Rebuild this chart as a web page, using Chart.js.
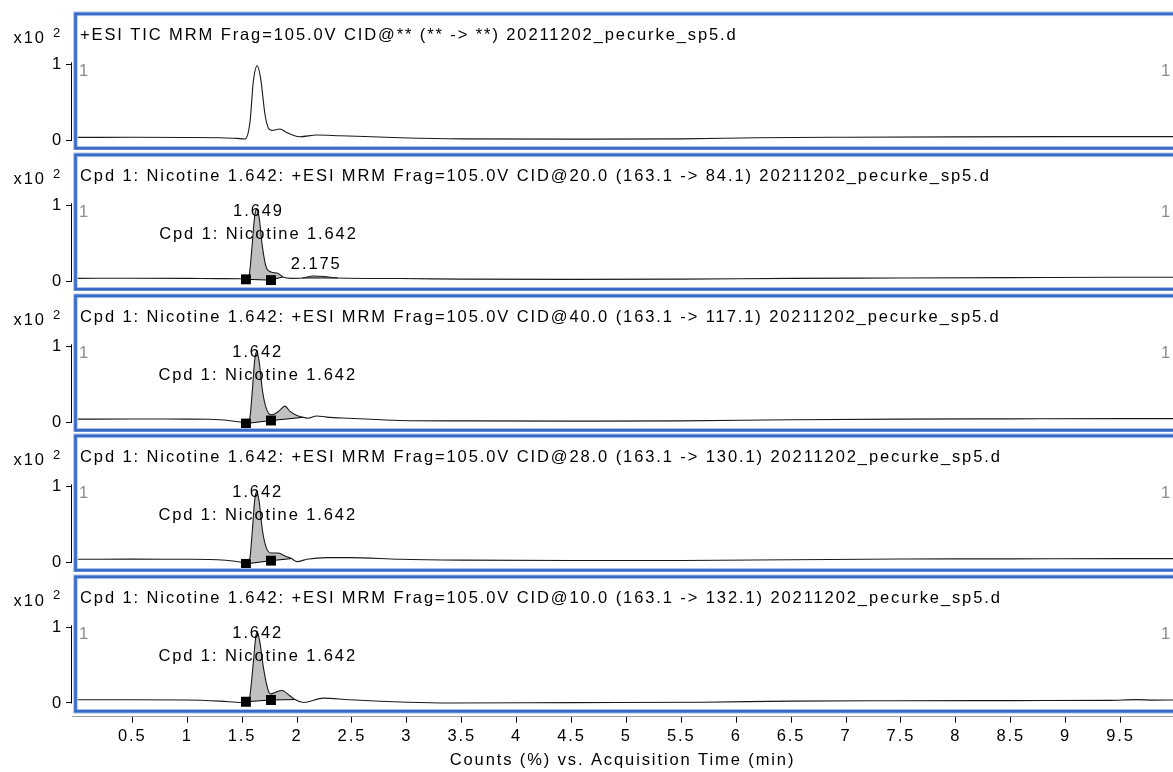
<!DOCTYPE html>
<html>
<head>
<meta charset="utf-8">
<script src="https://cdn.jsdelivr.net/npm/chart.js@4.4.0/dist/chart.umd.min.js"></script>
<style>
  html, body { margin: 0; padding: 0; background: #fff; }
  #wrap { position: relative; width: 1173px; height: 772px; overflow: hidden; }
  #wrap canvas { position: absolute; left: 0; }
</style>
</head>
<body>
<div id="wrap"></div>
<script>
const FONT = '"Liberation Sans", Arial, sans-serif';
const LETTER = '1.9px';

const xTicks = [0.5, 1, 1.5, 2, 2.5, 3, 3.5, 4, 4.5, 5, 5.5, 6, 6.5, 7, 7.5, 8, 8.5, 9, 9.5];
const yTicks = [0, 1];
const xTitle = 'Counts (%) vs. Acquisition Time (min)';

const titles = [
  '+ESI TIC MRM Frag=105.0V CID@** (** -> **) 20211202_pecurke_sp5.d',
  'Cpd 1: Nicotine 1.642: +ESI MRM Frag=105.0V CID@20.0 (163.1 -> 84.1) 20211202_pecurke_sp5.d',
  'Cpd 1: Nicotine 1.642: +ESI MRM Frag=105.0V CID@40.0 (163.1 -> 117.1) 20211202_pecurke_sp5.d',
  'Cpd 1: Nicotine 1.642: +ESI MRM Frag=105.0V CID@28.0 (163.1 -> 130.1) 20211202_pecurke_sp5.d',
  'Cpd 1: Nicotine 1.642: +ESI MRM Frag=105.0V CID@10.0 (163.1 -> 132.1) 20211202_pecurke_sp5.d'
];

// TIC
const t1 = [0, 0.5, 1.0, 1.3, 1.45, 1.526, 1.572, 1.602, 1.638, 1.669, 1.709, 1.739, 1.77, 1.845, 1.906, 1.97, 2.028, 2.179, 2.391, 2.938, 3.5, 4.5, 5.5, 6.2, 7.0, 8.0, 9.0, 9.978];
const y1 = [0.035, 0.036, 0.034, 0.03, 0.022, 0.013, 0.24, 0.77, 0.98, 0.81, 0.33, 0.16, 0.128, 0.145, 0.10, 0.06, 0.044, 0.066, 0.057, 0.03, 0.015, 0.012, 0.015, 0.03, 0.037, 0.042, 0.045, 0.045];

// 163.1 -> 84.1
const t2 = [0, 0.5, 1.0, 1.3, 1.5, 1.535, 1.565, 1.59, 1.615, 1.633, 1.655, 1.685, 1.72, 1.763, 1.83, 1.87, 1.95, 2.05, 2.15, 2.25, 2.37, 2.94, 3.5, 4.5, 5.5, 6.5, 7.5, 8.5, 9.5, 9.978];
const y2 = [0.035, 0.037, 0.035, 0.032, 0.03, 0.022, 0.08, 0.45, 0.86, 0.95, 0.84, 0.45, 0.18, 0.12, 0.10, 0.054, 0.035, 0.04, 0.067, 0.06, 0.04, 0.033, 0.025, 0.022, 0.025, 0.035, 0.04, 0.045, 0.05, 0.05];
const base2T = [1.535, 1.763, 1.87, 1.96, 2.05, 2.37];
const base2Y = [0.022, 0.012, 0.054, null, 0.04, 0.04];

// 163.1 -> 117.1
const t3 = [0, 0.5, 1.0, 1.2, 1.48, 1.535, 1.57, 1.595, 1.615, 1.633, 1.655, 1.685, 1.72, 1.763, 1.80, 1.84, 1.89, 1.936, 2.0, 2.06, 2.1, 2.18, 2.27, 2.48, 2.94, 3.5, 4.5, 5.5, 6.5, 7.5, 8.5, 9.5, 9.978];
const y3 = [0.038, 0.04, 0.038, 0.036, 0.0, -0.018, 0.05, 0.45, 0.82, 0.93, 0.8, 0.42, 0.18, 0.096, 0.11, 0.15, 0.21, 0.14, 0.085, 0.062, 0.05, 0.08, 0.065, 0.05, 0.02, 0.015, 0.012, 0.015, 0.03, 0.038, 0.042, 0.045, 0.045];
const base3T = [1.535, 1.763, 2.06];
const base3Y = [-0.02, 0.02, 0.062];

// 163.1 -> 130.1
const t4 = [0, 0.5, 1.0, 1.2, 1.48, 1.535, 1.57, 1.595, 1.615, 1.633, 1.655, 1.685, 1.72, 1.763, 1.83, 1.89, 1.95, 2.0, 2.09, 2.27, 2.48, 2.94, 3.5, 4.5, 5.5, 6.5, 7.5, 8.5, 9.5, 9.978];
const y4 = [0.036, 0.038, 0.036, 0.034, 0.0, -0.02, 0.05, 0.45, 0.82, 0.93, 0.8, 0.42, 0.19, 0.12, 0.12, 0.08, 0.045, 0.005, 0.036, 0.058, 0.058, 0.036, 0.025, 0.02, 0.02, 0.03, 0.04, 0.042, 0.045, 0.045];
const base4T = [1.535, 1.763, 1.95];
const base4Y = [-0.025, 0.018, 0.045];

// 163.1 -> 132.1
const t5 = [0, 0.5, 1.0, 1.3, 1.5, 1.535, 1.566, 1.60, 1.625, 1.638, 1.66, 1.693, 1.724, 1.745, 1.763, 1.80, 1.86, 1.936, 1.98, 2.06, 2.24, 2.48, 3.39, 4.5, 5.7, 6.5, 7.5, 8.5, 9.4, 9.65, 9.8, 9.978];
const y5 = [0.042, 0.042, 0.04, 0.025, 0.007, 0.016, 0.06, 0.5, 0.88, 0.94, 0.82, 0.48, 0.24, 0.14, 0.12, 0.14, 0.165, 0.095, 0.045, 0.007, 0.065, 0.042, 0.0, 0.005, 0.01, 0.025, 0.03, 0.032, 0.035, 0.045, 0.038, 0.04];
const base5T = [1.535, 1.763, 1.98];
const base5Y = [0.016, 0.04, 0.045];

// integration start / end markers (first two baseline points)
const markT = [1.535, 1.763];

const peakRT = [[], [1.649, 2.175], [1.642], [1.642], [1.642]];
const peakName = [[], ['Cpd 1: Nicotine 1.642', ''], ['Cpd 1: Nicotine 1.642'], ['Cpd 1: Nicotine 1.642'], ['Cpd 1: Nicotine 1.642']];

const curveT = [t1, t2, t3, t4, t5];
const curveY = [y1, y2, y3, y4, y5];
const baseT = [null, base2T, base3T, base4T, base5T];
const baseY = [null, base2Y, base3Y, base4Y, base5Y];

const X_MIN = -0.0492, X_MAX = 9.978;
const tops = [0, 141, 282, 422, 563];

Chart.defaults.font.family = FONT;
Chart.defaults.font.size = 16.5;
Chart.defaults.color = '#000';

const pts = (ts, vs) => ts.map((t, k) => ({ x: t, y: vs[k] }));

const spacing = {
  id: 'spacing',
  beforeLayout(chart){ chart.ctx.letterSpacing = LETTER; },
  beforeDraw(chart){ chart.ctx.letterSpacing = LETTER; }
};

const decor = {
  id: 'decor',
  afterDraw(chart, args, opts){
    const i = opts.index;
    const { ctx } = chart;
    const x = chart.scales.x, y = chart.scales.y;
    const z = y.getPixelForValue(0), one = y.getPixelForValue(1);
    ctx.save();
    ctx.letterSpacing = LETTER;

    // short y axis line between 0 and 1
    ctx.strokeStyle = '#000';
    ctx.lineWidth = 1;
    ctx.beginPath();
    ctx.moveTo(y.right - 0.5, one - 2);
    ctx.lineTo(y.right - 0.5, z + 0.5);
    ctx.stroke();

    // blue frame
    const top = z - 126.2, bot = z + 8.3;
    ctx.strokeStyle = '#a9c1ec';
    ctx.lineWidth = 4.6;
    ctx.strokeRect(75.5, top, 1110, bot - top);
    ctx.strokeStyle = '#3769c6';
    ctx.lineWidth = 2.6;
    ctx.strokeRect(75.5, top, 1110, bot - top);

    ctx.fillStyle = '#000';
    ctx.textAlign = 'left';
    ctx.textBaseline = 'alphabetic';
    ctx.font = `16.5px ${FONT}`;
    ctx.fillText('x10', 13.5, z - 97);
    ctx.fillText(titles[i], 80, z - 100);
    ctx.font = `13px ${FONT}`;
    ctx.fillText('2', 53, z - 103.5);

    ctx.font = `16.5px ${FONT}`;
    ctx.fillStyle = '#8c8c8c';
    ctx.fillText('1', 79, z - 64);
    ctx.fillText('1', 1161, z - 64);

    // peak labels
    ctx.fillStyle = '#000';
    ctx.textAlign = 'center';
    const tt = curveT[i], yy = curveY[i];
    peakRT[i].forEach((rt, j) => {
      let apex = 0;
      tt.forEach((t, k) => { if (Math.abs(t - rt) <= 0.06) apex = Math.max(apex, yy[k]); });
      const px = x.getPixelForValue(rt);
      const mid = Math.max(y.getPixelForValue(apex) - 13, z - 71);
      ctx.fillText(rt.toFixed(3), px, mid + 6);
      if (peakName[i][j]) ctx.fillText(peakName[i][j], px, mid + 29);
    });
    ctx.restore();
  }
};

const wrap = document.getElementById('wrap');

curveT.forEach((ts, i) => {
  const last = i === curveT.length - 1;
  const h = last ? 209 : 150;
  const canvas = document.createElement('canvas');
  canvas.width = 1173;
  canvas.height = h;
  canvas.style.width = '1173px';
  canvas.style.height = h + 'px';
  canvas.style.top = tops[i] + 'px';
  wrap.appendChild(canvas);

  const datasets = [];
  if (baseT[i]){
    const mk = markT.map(t => baseY[i][baseT[i].indexOf(t)]);
    datasets.push({
      data: pts(markT, mk),
      showLine: false,
      pointStyle: 'rect',
      pointRadius: 7,
      pointBackgroundColor: '#000',
      pointBorderWidth: 0
    });
  }
  datasets.push({
    data: pts(ts, curveY[i]),
    borderColor: '#1a1a1a',
    borderWidth: 1.1,
    backgroundColor: '#c0c0c0',
    pointRadius: 0,
    cubicInterpolationMode: 'monotone',
    tension: 0.4,
    fill: baseT[i] ? 2 : false
  });
  if (baseT[i]){
    datasets.push({
      data: pts(baseT[i], baseY[i]),
      borderColor: '#000',
      borderWidth: 1,
      pointRadius: 0,
      tension: 0,
      spanGaps: false,
      fill: false
    });
  }

  new Chart(canvas.getContext('2d'), {
    type: 'line',
    data: { datasets },
    plugins: [spacing, decor],
    options: {
      responsive: false,
      animation: false,
      events: [],
      layout: { autoPadding: false, padding: { top: 16, right: 0, left: 0, bottom: last ? 0 : 4 } },
      plugins: {
        legend: { display: false },
        tooltip: { enabled: false },
        filler: { drawTime: 'beforeDatasetsDraw' },
        decor: { index: i }
      },
      scales: {
        x: {
          type: 'linear',
          min: X_MIN,
          max: X_MAX,
          display: last,
          afterBuildTicks: s => { s.ticks = xTicks.map(v => ({ value: v })); },
          afterFit: s => {
            s.height = last ? 55.3 : 0;
            s.paddingLeft = 0;
            s.paddingRight = 0;
          },
          grid: { drawOnChartArea: false, drawTicks: true, tickLength: 6, color: '#000' },
          border: { display: true, color: '#a0a0a0' },
          ticks: { padding: 3.5, maxRotation: 0, autoSkip: false, callback: v => String(v) },
          title: { display: true, text: xTitle, padding: { top: 0, bottom: 2 } }
        },
        y: {
          type: 'linear',
          min: last ? -0.181 : -0.079,
          max: 1.638,
          afterBuildTicks: s => { s.ticks = yTicks.map(v => ({ value: v })); },
          afterFit: s => { s.width = 72; s.paddingTop = 0; s.paddingBottom = 0; },
          grid: { drawOnChartArea: false, drawTicks: true, tickLength: 6, color: '#000' },
          border: { display: false },
          ticks: { padding: 3, callback: v => String(v) }
        }
      }
    }
  });
});
</script>
</body>
</html>
